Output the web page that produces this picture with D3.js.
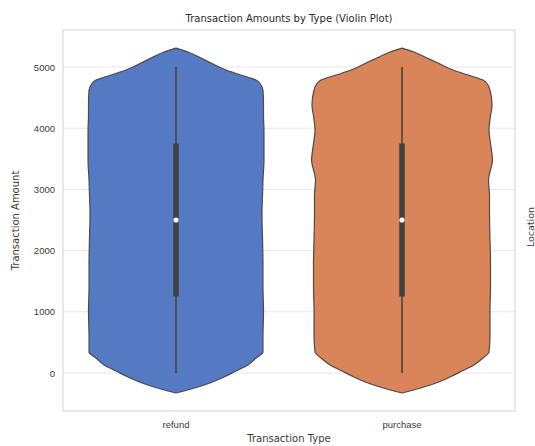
<!DOCTYPE html>
<html>
<head>
<meta charset="utf-8">
<script src="https://cdn.jsdelivr.net/npm/d3@7"></script>
<style>
  html, body { margin: 0; padding: 0; background: #fff; }
  svg { display: block; font-family: "DejaVu Sans", sans-serif; }
</style>
</head>
<body>
<svg id="chart" width="535" height="446"></svg>
<script>
// ---------- data ----------
const categories = ["refund", "purchase"];
const yTicks = [0, 1000, 2000, 3000, 4000, 5000];

// KDE profile (amount grid, relative density 0..1)
const amountGrid = [-327, -294, -229, -163, -65, 33, 131, 245, 343, 600, 1000, 1400, 1800, 2200, 2600, 2900, 3150, 3480, 3750, 3970, 4200, 4380, 4624, 4706, 4788, 4869, 4951, 5065, 5147, 5245, 5310];
const refundDensity = [0, 0.088, 0.243, 0.376, 0.531, 0.664, 0.796, 0.885, 0.962, 0.962, 0.968, 0.962, 0.962, 0.957, 0.951, 0.957, 0.962, 0.973, 0.973, 0.973, 0.968, 0.968, 0.962, 0.940, 0.885, 0.719, 0.553, 0.387, 0.277, 0.133, 0];
const purchaseDensity = [0, 0.088, 0.243, 0.376, 0.531, 0.664, 0.796, 0.896, 0.962, 0.973, 0.973, 0.979, 0.979, 0.973, 0.968, 0.968, 0.957, 1.0, 0.979, 0.962, 0.979, 0.996, 0.973, 0.951, 0.896, 0.730, 0.564, 0.398, 0.277, 0.133, 0];

// box summary
const whiskerLow = [0, 0];
const q1 = [1250, 1250];
const median = [2500, 2500];
const q3 = [3750, 3750];
const whiskerHigh = [5000, 5000];

const fills = ["#5579c2", "#da8459"];

// ---------- layout ----------
const svg = d3.select("#chart");
const plot = { left: 63, right: 515, top: 30, bottom: 411 };

const x = d3.scaleBand().domain(categories).range([plot.left, plot.right]).padding(0);
const y = d3.scaleLinear().domain([-621, 5605]).range([plot.bottom, plot.top]);
const w = d3.scaleLinear().domain([0, 1]).range([0, x.bandwidth() * 0.4]);

// background + grid
svg.append("rect").attr("x", plot.left).attr("y", plot.top)
  .attr("width", plot.right - plot.left).attr("height", plot.bottom - plot.top)
  .attr("fill", "#fff");

const grid = svg.append("g");
grid.selectAll("line").data(yTicks).join("line")
  .attr("x1", plot.left).attr("x2", plot.right)
  .attr("y1", d => y(d)).attr("y2", d => y(d))
  .attr("stroke", "#e6e6e6").attr("stroke-width", 1);

// y axis
const yAxis = svg.append("g").attr("transform", `translate(${plot.left},0)`)
  .call(d3.axisLeft(y).tickValues(yTicks).tickSize(0).tickPadding(8).tickFormat(d3.format("d")));
yAxis.select(".domain").remove();
yAxis.selectAll("text").attr("fill", "#3a3a3a").style("font-size", "9.5px");

// x axis
const xAxis = svg.append("g").attr("transform", `translate(0,${plot.bottom})`)
  .call(d3.axisBottom(x).tickSize(0).tickPadding(10));
xAxis.select(".domain").remove();
xAxis.selectAll("text").attr("fill", "#3a3a3a").style("font-size", "9.5px");

// violins
const densities = [refundDensity, purchaseDensity];
categories.forEach((cat, i) => {
  const cx = x(cat) + x.bandwidth() / 2;
  const pts = amountGrid.map((a, k) => ({ a, d: densities[i][k] }));
  const area = d3.area()
    .y(p => y(p.a))
    .x0(p => cx - w(p.d))
    .x1(p => cx + w(p.d))
    .curve(d3.curveMonotoneY);
  svg.append("path").datum(pts)
    .attr("d", area)
    .attr("fill", fills[i])
    .attr("stroke", "#4a4a4a")
    .attr("stroke-width", 1.2);

  // whisker
  svg.append("line")
    .attr("x1", cx).attr("x2", cx)
    .attr("y1", y(whiskerLow[i])).attr("y2", y(whiskerHigh[i]))
    .attr("stroke", "#454545").attr("stroke-width", 1.6);
  // box
  svg.append("line")
    .attr("x1", cx).attr("x2", cx)
    .attr("y1", y(q1[i])).attr("y2", y(q3[i]))
    .attr("stroke", "#404040").attr("stroke-width", 5.5);
  // median
  svg.append("circle")
    .attr("cx", cx).attr("cy", y(median[i])).attr("r", 2.6)
    .attr("fill", "#fff");
});

// frame
svg.append("rect").attr("x", plot.left).attr("y", plot.top)
  .attr("width", plot.right - plot.left).attr("height", plot.bottom - plot.top)
  .attr("fill", "none").attr("stroke", "#d4d4d4").attr("stroke-width", 1);

// titles
svg.append("text")
  .attr("x", (plot.left + plot.right) / 2).attr("y", 22)
  .attr("text-anchor", "middle").attr("fill", "#2a2a2a")
  .style("font-size", "10px")
  .text("Transaction Amounts by Type (Violin Plot)");

svg.append("text")
  .attr("x", (plot.left + plot.right) / 2).attr("y", 442)
  .attr("text-anchor", "middle").attr("fill", "#3a3a3a")
  .style("font-size", "10px")
  .text("Transaction Type");

svg.append("text")
  .attr("transform", `translate(19,${(plot.top + plot.bottom) / 2}) rotate(-90)`)
  .attr("text-anchor", "middle").attr("fill", "#3a3a3a")
  .style("font-size", "10px")
  .text("Transaction Amount");

svg.append("text")
  .attr("transform", `translate(534,227) rotate(-90)`)
  .attr("text-anchor", "middle").attr("fill", "#3a3a3a")
  .style("font-size", "9.5px")
  .text("Location");
</script>
</body>
</html>
